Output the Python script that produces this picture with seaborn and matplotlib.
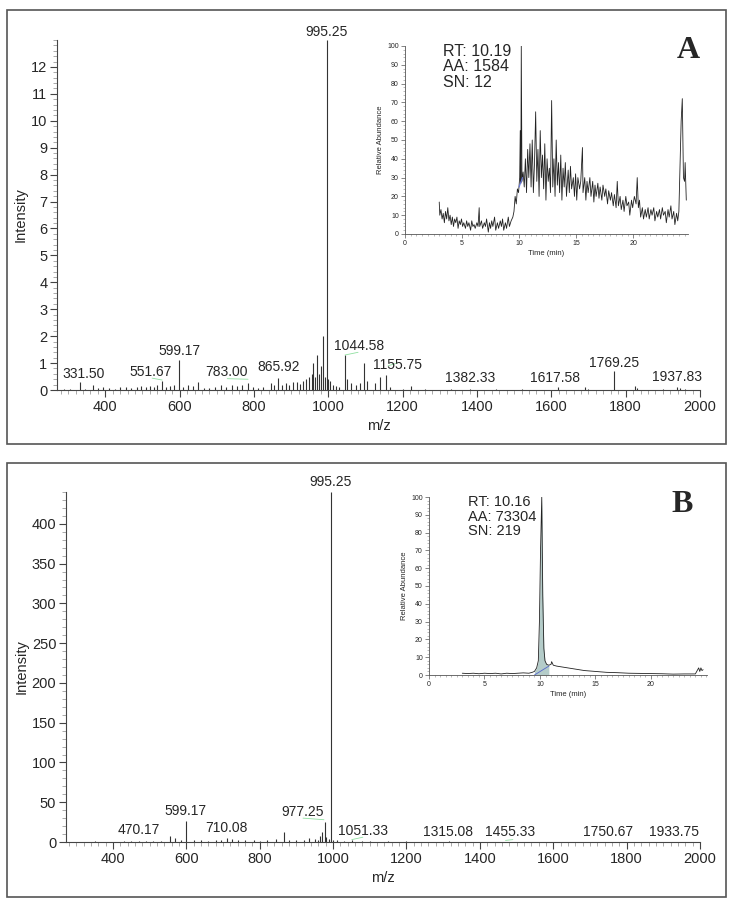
import matplotlib
matplotlib.use("Agg")
import matplotlib.pyplot as plt
from matplotlib.patches import Rectangle
from matplotlib.ticker import MultipleLocator
import seaborn as sns
import pandas as pd

# ---- spectrum A (m/z, intensity) ----
mz_a = [290, 305, 331.5, 345, 368, 380, 395, 410, 425, 440, 455, 470, 485, 497, 510, 520,
        530, 540, 551.67, 562, 575, 585, 599.17, 610, 622, 635, 650, 665, 680, 695, 712,
        725, 740, 755, 768, 783, 798, 812, 825, 845, 855, 865.92, 875, 885, 895, 905, 915,
        925, 932, 940, 948, 955, 960, 965, 970, 975, 980, 985, 990, 995.25, 1000, 1005,
        1012, 1020, 1030, 1044.58, 1050, 1060, 1075, 1085, 1095, 1105, 1125, 1140, 1155.75,
        1165, 1200, 1222, 1260, 1330, 1382.33, 1450, 1520, 1617.58, 1690, 1700, 1769.25,
        1825, 1830, 1900, 1937.83, 1945, 1960]
int_a = [0.05, 0.04, 0.3, 0.05, 0.2, 0.08, 0.1, 0.06, 0.05, 0.1, 0.12, 0.08, 0.1, 0.14, 0.12,
         0.15, 0.1, 0.18, 0.35, 0.12, 0.15, 0.18, 1.1, 0.12, 0.2, 0.15, 0.3, 0.08, 0.06, 0.1,
         0.2, 0.12, 0.18, 0.15, 0.2, 0.25, 0.1, 0.08, 0.12, 0.25, 0.2, 0.45, 0.2, 0.25, 0.2,
         0.28, 0.3, 0.22, 0.35, 0.4, 0.5, 0.6, 1.0, 0.5, 1.3, 0.6, 0.9, 2.0, 0.5, 13.0, 0.4,
         0.35, 0.2, 0.15, 0.1, 1.3, 0.4, 0.25, 0.2, 0.25, 1.0, 0.35, 0.25, 0.5, 0.55, 0.1,
         0.05, 0.15, 0.04, 0.05, 0.05, 0.03, 0.03, 0.1, 0.12, 0.05, 0.7, 0.15, 0.08, 0.04,
         0.1, 0.08, 0.05]
labels_a = ["331.50", "551.67", "599.17", "783.00", "865.92", "995.25", "1044.58",
            "1155.75", "1382.33", "1617.58", "1769.25", "1937.83"]
label_mz_a = [341, 521, 599, 725, 865, 994, 1084, 1185, 1381, 1610, 1768, 1938]
label_y_a = [0.33, 0.4, 1.2, 0.4, 0.6, 13.05, 1.37, 0.67, 0.18, 0.2, 0.74, 0.22]
# faint green label connectors (x0, x1, y0, y1)
conn_a = [(526, 553, 0.44, 0.37), (728, 784, 0.42, 0.4), (1045, 1080, 1.3, 1.4),
          (1161, 1185, 0.9, 1.0)]

# ---- spectrum B ----
mz_b = [300, 350, 400, 430, 450, 470.17, 490, 510, 530, 555, 570, 585, 599.17, 620, 640, 660,
        680, 695, 710.08, 725, 740, 760, 785, 800, 820, 845, 865, 880, 900, 920, 935, 950,
        958, 965, 970, 977.25, 982, 990, 995.25, 1000, 1010, 1030, 1051.33, 1080, 1100,
        1150, 1200, 1250, 1315.08, 1400, 1455.33, 1550, 1650, 1750.67, 1850, 1933.75]
int_b = [0.5, 0.8, 0.6, 1, 1.2, 1.5, 1, 1.5, 1.2, 7, 5, 2, 26, 2, 2, 1.5, 2, 3, 5, 4, 2, 2, 3,
         1.5, 2, 4, 13, 2, 2, 2, 5, 4, 3, 8, 12, 25, 6, 4, 440, 3, 2, 1.5, 2, 1.5, 1, 1, 1,
         0.5, 0.8, 0.5, 0.5, 0.4, 0.4, 0.5, 0.3, 0.3]
labels_b = ["470.17", "599.17", "710.08", "977.25", "995.25", "1051.33", "1315.08",
            "1455.33", "1750.67", "1933.75"]
label_mz_b = [471, 599, 710, 918, 994, 1081, 1313, 1482, 1749, 1929]
label_y_b = [6, 30, 9, 29, 444, 5, 4, 4, 4, 4]
conn_b = [(918, 975, 30, 28), (1051, 1081, 3, 6), (1470, 1490, 2, 3)]

# ---- chromatogram A (time min, relative abundance) ----
t_a = [3.0, 3.05, 3.15, 3.25, 3.35, 3.45, 3.55, 3.65, 3.75, 3.85, 3.95, 4.05, 4.15, 4.25, 4.35,
       4.45, 4.55, 4.65, 4.75, 4.85, 4.95, 5.05, 5.15, 5.3, 5.4, 5.5, 5.6, 5.75, 5.85, 5.95,
       6.05, 6.15, 6.3, 6.4, 6.5, 6.55, 6.7, 6.8, 6.95, 7.05, 7.15, 7.3, 7.4, 7.5, 7.6, 7.7,
       7.85, 7.95, 8.1, 8.2, 8.35, 8.45, 8.55, 8.65, 8.8, 8.9, 9.05, 9.15, 9.3, 9.45, 9.55,
       9.65, 9.75, 9.85, 9.95, 10.05, 10.1, 10.15, 10.19, 10.25, 10.35, 10.45, 10.55, 10.65,
       10.75, 10.85, 10.95, 11.05, 11.15, 11.25, 11.35, 11.45, 11.55, 11.65, 11.75, 11.85,
       11.95, 12.05, 12.15, 12.25, 12.35, 12.45, 12.55, 12.65, 12.75, 12.85, 12.95, 13.05,
       13.15, 13.25, 13.35, 13.45, 13.55, 13.65, 13.75, 13.85, 13.95, 14.05, 14.15, 14.3,
       14.4, 14.5, 14.6, 14.75, 14.85, 14.95, 15.05, 15.15, 15.3, 15.4, 15.55, 15.6, 15.75,
       15.85, 15.95, 16.05, 16.2, 16.3, 16.45, 16.55, 16.65, 16.75, 16.9, 17.0, 17.1, 17.25,
       17.35, 17.5, 17.6, 17.75, 17.85, 18.0, 18.1, 18.25, 18.35, 18.5, 18.6, 18.7, 18.85,
       18.95, 19.1, 19.2, 19.35, 19.45, 19.6, 19.7, 19.85, 19.95, 20.1, 20.25, 20.35, 20.45,
       20.55, 20.65, 20.8, 20.9, 21.05, 21.15, 21.3, 21.4, 21.55, 21.65, 21.8, 21.9, 22.05,
       22.15, 22.3, 22.4, 22.55, 22.65, 22.8, 22.9, 23.05, 23.15, 23.3, 23.4, 23.55, 23.65,
       23.8, 23.9, 24.0, 24.1, 24.2, 24.3, 24.4, 24.5, 24.55, 24.65]
ab_a = [17, 10, 13, 8, 11, 6, 12, 8, 14, 7, 10, 5, 9, 4, 8, 6, 9, 3, 7, 5, 8, 4, 6, 3, 7, 4, 6,
        2, 7, 4, 5, 3, 6, 4, 14, 4, 7, 3, 6, 4, 8, 1, 6, 3, 7, 4, 9, 2, 6, 3, 7, 4, 8, 2, 6, 3,
        9, 4, 7, 9, 12, 20, 16, 24, 22, 30, 55, 27, 100, 28, 33, 25, 40, 22, 45, 30, 48, 25,
        50, 22, 38, 65, 28, 45, 20, 55, 30, 42, 24, 48, 18, 40, 28, 35, 22, 71, 25, 40, 20,
        50, 26, 38, 22, 42, 18, 35, 25, 38, 20, 34, 22, 36, 24, 30, 20, 32, 18, 30, 24, 28,
        46, 22, 30, 18, 28, 22, 30, 20, 28, 17, 26, 20, 27, 19, 25, 18, 26, 20, 24, 16, 23,
        18, 22, 15, 21, 14, 28, 15, 20, 13, 18, 12, 20, 15, 17, 10, 18, 14, 20, 16, 30, 14,
        18, 9, 14, 8, 13, 9, 14, 8, 13, 10, 14, 7, 12, 9, 13, 8, 14, 10, 12, 6, 13, 9, 15, 8,
        12, 5, 11, 7, 12, 35, 60, 72, 30, 28, 38, 18]

# ---- chromatogram B ----
t_b = [3.0, 3.5, 4.0, 4.5, 5.0, 5.5, 6.0, 6.5, 7.0, 7.5, 8.0, 8.5, 9.0, 9.3, 9.5, 9.7, 9.85,
       9.95, 10.05, 10.16, 10.25, 10.35, 10.45, 10.6, 10.8, 11.0, 11.05, 11.2, 11.5, 12.0,
       12.5, 13.0, 13.5, 14.0, 15.0, 16.0, 17.0, 18.0, 19.0, 20.0, 21.0, 22.0, 23.0, 24.0,
       24.3, 24.4, 24.5, 24.6, 24.7]
ab_b = [1, 0.8, 1, 0.7, 1, 0.8, 1, 0.6, 1, 0.8, 1, 1.2, 1, 1.5, 2, 4, 8, 30, 70, 100, 45, 15,
        8, 6, 5.5, 6, 7.5, 5.5, 5, 4.5, 4, 3.5, 3, 2.5, 2, 1.5, 1.3, 1, 0.9, 0.8, 0.7, 0.5,
        0.6, 0.6, 4, 2, 4, 2.5, 3]
fill_start_b, fill_end_b = 9.5, 10.8

sns.set_style("ticks")
plt.rcParams['font.family'] = ['Liberation Sans', 'DejaVu Sans']

fig = plt.figure(figsize=(7.33, 9.05), dpi=100)
W, H = 733, 905


def px_axes(l, t, r, b):
    return fig.add_axes([l / W, 1 - b / H, (r - l) / W, (b - t) / H])


def style_main(ax, xlim, ylim, yticks, ymin):
    sns.despine(ax=ax)
    ax.set_xlim(*xlim)
    ax.set_ylim(*ylim)
    ax.xaxis.set_major_locator(MultipleLocator(200))
    ax.xaxis.set_minor_locator(MultipleLocator(20))
    ax.set_yticks(yticks)
    ax.yaxis.set_minor_locator(MultipleLocator(ymin))
    ax.tick_params(which='major', length=5, width=0.8, labelsize=10.5, color='#444444', pad=2)
    ax.tick_params(which='minor', length=3, width=0.5, color='#888888')
    for s in ax.spines.values():
        s.set_color('#444444')
        s.set_linewidth(0.8)
    ax.set_xlabel("m/z", fontsize=10.5, labelpad=4)
    ax.set_ylabel("Intensity", fontsize=10.5, labelpad=2)


def style_inset(ax, xlim):
    sns.despine(ax=ax)
    ax.set_xlim(*xlim)
    ax.set_ylim(0, 100)
    ax.set_xticks([0, 5, 10, 15, 20])
    ax.xaxis.set_minor_locator(MultipleLocator(0.5))
    ax.yaxis.set_major_locator(MultipleLocator(10))
    ax.yaxis.set_minor_locator(MultipleLocator(2))
    ax.tick_params(which='major', length=3, width=0.5, labelsize=5, color='#555555', pad=1.5)
    ax.tick_params(which='minor', length=1.5, width=0.4, color='#888888')
    for s in ax.spines.values():
        s.set_color('#555555')
        s.set_linewidth(0.6)
    ax.set_xlabel("Time (min)", fontsize=5.5, labelpad=2)
    ax.set_ylabel("Relative Abundance", fontsize=5.5, labelpad=2)
    ax.patch.set_alpha(0)


# ---- panel frames ----
for (l, t, r, b) in [(7, 10, 726, 444), (7, 463, 726, 897)]:
    fig.patches.append(Rectangle((l / W, 1 - b / H), (r - l) / W, (b - t) / H,
                                 transform=fig.transFigure, fill=False,
                                 edgecolor='#555555', linewidth=1.2))

# ---- panel A ----
ax_a = px_axes(57, 40, 700, 390)
ax_a.vlines(mz_a, 0, int_a, color='#333333', linewidth=0.8)
for x0, x1, y0, y1 in conn_a:
    ax_a.plot([x0, x1], [y0, y1], color='#8fe0a0', linewidth=0.6)
style_main(ax_a, (270, 2000), (0, 13), list(range(13)), 0.2)
for lab, x, y in zip(labels_a, label_mz_a, label_y_a):
    ax_a.text(x, y, lab, ha='center', va='bottom', fontsize=10)

in_a = px_axes(405, 46, 688, 234)
sns.lineplot(x=t_a, y=ab_a, ax=in_a, color='#222222', linewidth=0.6)
in_a.plot([10.0, 10.3], [25, 30], color='#6677dd', linewidth=0.8)
style_inset(in_a, (0, 24.8))
in_a.text(3.3, 101, "RT: 10.19\nAA: 1584\nSN: 12", fontsize=11.5, va='top', linespacing=1.02)
fig.text(688 / W, 1 - 50 / H, "A", fontsize=23, fontweight='bold',
         family='Liberation Serif', ha='center', va='center')

# ---- panel B ----
ax_b = px_axes(66, 492, 700, 842)
ax_b.vlines(mz_b, 0, int_b, color='#333333', linewidth=0.8)
for x0, x1, y0, y1 in conn_b:
    ax_b.plot([x0, x1], [y0, y1], color='#8fe0a0', linewidth=0.6)
style_main(ax_b, (272, 2000), (0, 440), list(range(0, 401, 50)), 10)
for lab, x, y in zip(labels_b, label_mz_b, label_y_b):
    ax_b.text(x, y, lab, ha='center', va='bottom', fontsize=10)

in_b = px_axes(429, 497, 707, 675)
df_b = pd.DataFrame({"t": t_b, "ab": ab_b})
mask = (df_b["t"] >= fill_start_b) & (df_b["t"] <= fill_end_b)
in_b.fill_between(df_b["t"][mask], 0, df_b["ab"][mask], color='#b4ccc9', linewidth=0)
sns.lineplot(data=df_b, x="t", y="ab", ax=in_b, color='#222222', linewidth=0.6)
in_b.plot([fill_start_b, fill_end_b], [0, 5], color='#5566cc', linewidth=0.6)
style_inset(in_b, (0, 25.05))
in_b.text(3.55, 101, "RT: 10.16\nAA: 73304\nSN: 219", fontsize=10.5, va='top', linespacing=1.05)
fig.text(682 / W, 1 - 505 / H, "B", fontsize=23, fontweight='bold',
         family='Liberation Serif', ha='center', va='center')

fig.savefig("out.png", dpi=100)
